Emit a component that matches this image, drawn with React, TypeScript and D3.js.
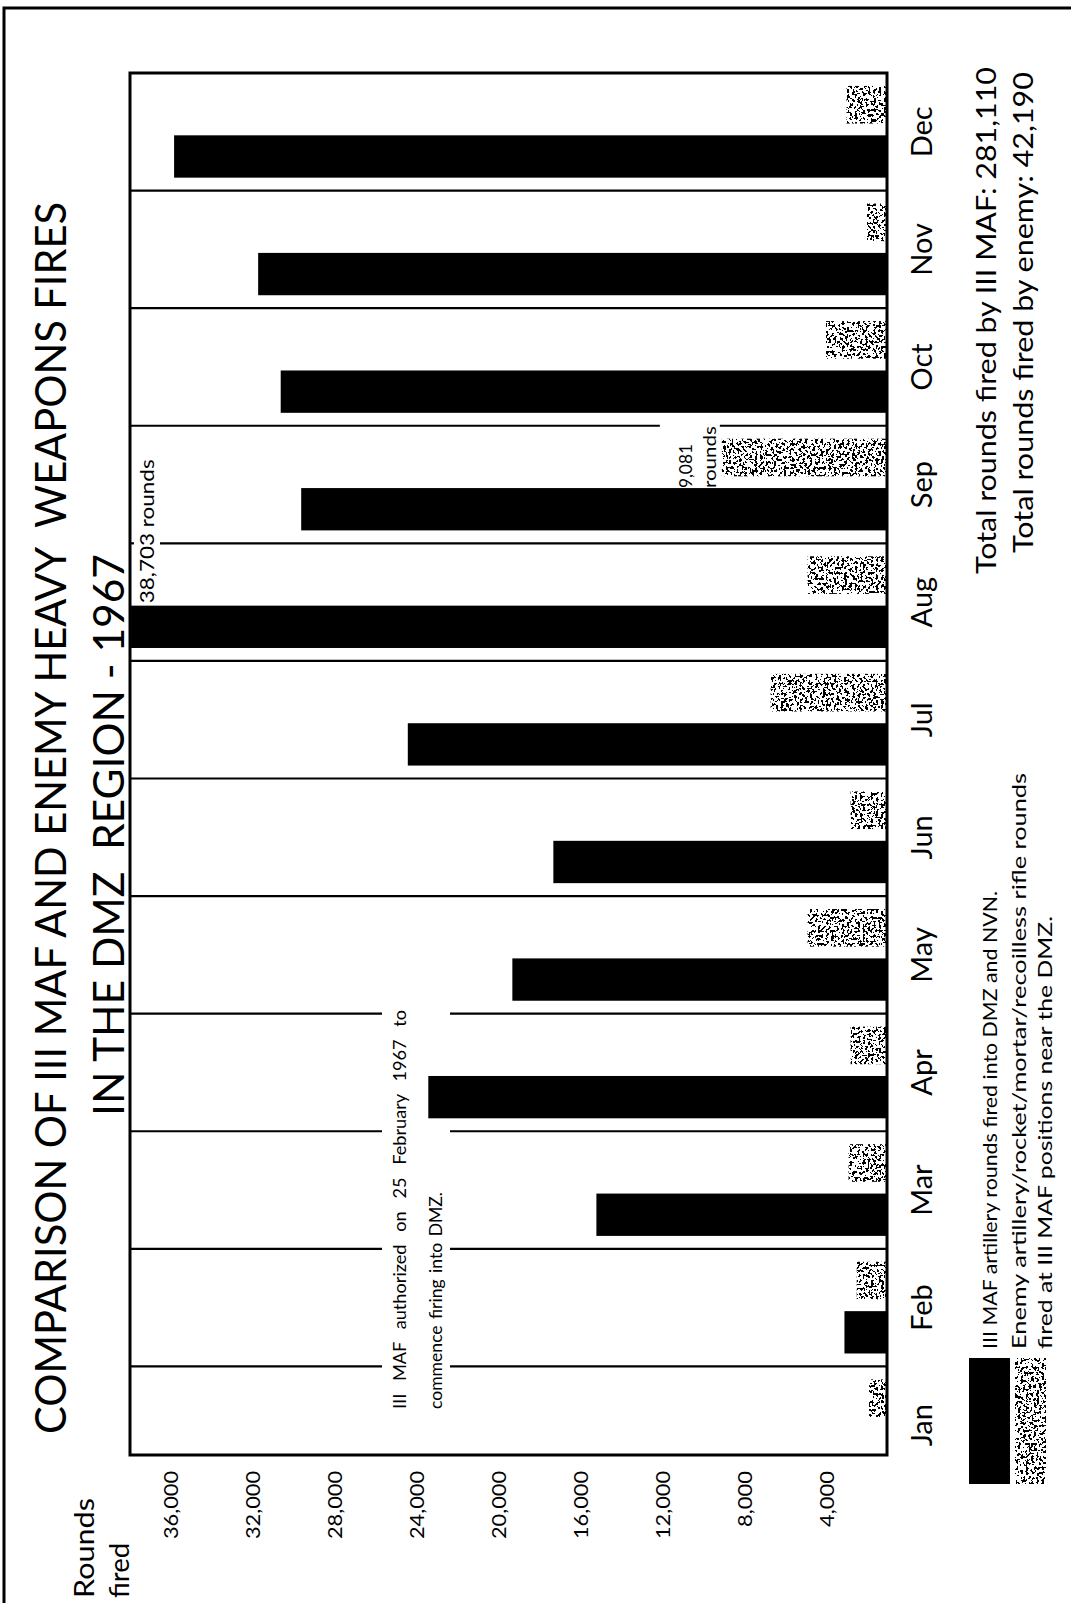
import React from 'react';
import * as d3 from 'd3';

// 1967, III MAF vs enemy heavy weapons fires
const months = ['Jan', 'Feb', 'Mar', 'Apr', 'May', 'Jun', 'Jul', 'Aug', 'Sep', 'Oct', 'Nov', 'Dec'];
const mafRounds = [0, 3100, 15200, 23400, 19300, 17300, 24400, 38703, 29600, 30600, 31700, 35800];
const enemyRounds = [1900, 2500, 2900, 2800, 4900, 2800, 6700, 4900, 9081, 4000, 2000, 3000];
const tickValues = [4000, 8000, 12000, 16000, 20000, 24000, 28000, 32000, 36000];

const titleLines = [
  'COMPARISON OF III MAF AND ENEMY HEAVY  WEAPONS FIRES',
  'IN THE DMZ  REGION - 1967',
];
const noteLines = ['III MAF authorized on 25 February 1967 to', 'commence firing into DMZ.'];
const legendItems = [
  { kind: 'maf', lines: ['III MAF artillery rounds fired into DMZ and NVN.'] },
  {
    kind: 'enemy',
    lines: ['Enemy artillery/rocket/mortar/recoilless rifle rounds', 'fired at III MAF positions near the DMZ.'],
  },
];
const totals = ['Total rounds fired by III MAF: 281,110', 'Total rounds fired by enemy: 42,190'];

const PAGE_W = 1071;
const PAGE_H = 1603;
const FONT = 'Lato, "Noto Sans", sans-serif';

export default function App() {
  // the chart is drawn upright in local coords (u across, v down) and turned -90deg onto the page
  const frame = { u0: 148, u1: 1530, v0: 130, v1: 887 };

  const x = d3.scaleBand<string>().domain(months).range([119, 1530]);
  const y = d3.scaleLinear().domain([0, 36000]).range([908, 170]);
  const bw = x.bandwidth();

  const fmt = d3.format(',');

  const augIdx = months.indexOf('Aug');
  const sepIdx = months.indexOf('Sep');
  const sepEnd = y(enemyRounds[sepIdx]);

  // where the divider lines break for the annotations
  const gapFor = (m: string): [number, number][] => {
    if (['Feb', 'Mar', 'Apr', 'May'].includes(m)) return [[382, 450]];
    if (m === 'Sep') return [[134, 160]];
    if (m === 'Oct') return [[sepEnd - 62, sepEnd - 2]];
    return [];
  };

  const dividers = months.slice(1).flatMap((m) => {
    const u = x(m)!;
    const segs: { u: number; a: number; b: number }[] = [];
    let start = frame.v0;
    gapFor(m).forEach(([g0, g1]) => {
      segs.push({ u, a: start, b: g0 });
      start = g1;
    });
    segs.push({ u, a: start, b: frame.v1 });
    return segs;
  });

  return (
    <svg
      width={PAGE_W}
      height={PAGE_H}
      style={{ position: 'absolute', top: 0, left: 0, background: '#fff' }}
      fontFamily={FONT}
    >
      <defs>
        <clipPath id="plotClip">
          <rect x={frame.u0} y={frame.v0} width={frame.u1 - frame.u0} height={frame.v1 - frame.v0} />
        </clipPath>
        <filter id="speckle" x="0" y="0" width="1" height="1">
          <feTurbulence type="fractalNoise" baseFrequency="0.38" numOctaves="2" seed="11" result="noise" />
          <feColorMatrix
            in="noise"
            type="matrix"
            values="0 0 0 0 0  0 0 0 0 0  0 0 0 0 0  1 0 0 0 0"
            result="r"
          />
          <feComponentTransfer in="r" result="mask">
            <feFuncA type="discrete" tableValues="0 0 0 0 0 0 0 0 0 0 0 1 1 1 1 1 1 1 1 1" />
          </feComponentTransfer>
          <feFlood floodColor="#000" result="ink" />
          <feComposite in="ink" in2="mask" operator="in" result="dots" />
          <feComposite in="dots" in2="SourceAlpha" operator="in" />
        </filter>
      </defs>

      <rect width={PAGE_W} height={PAGE_H} fill="#fff" />
      {/* outer border, only the left and top edges are in the picture */}
      <path d={`M4,${PAGE_H} L4,8 L${PAGE_W},8`} fill="none" stroke="#000" strokeWidth={3} />

      <g transform={`translate(0,${PAGE_H}) rotate(-90)`}>
        {/* title */}
        {titleLines.map((t, i) => (
          <text
            key={t}
            x={i === 0 ? 785 : 768}
            y={i === 0 ? 66 : 124}
            textAnchor="middle"
            fontSize={42}
            textLength={i === 0 ? 1232 : 562}
            lengthAdjust="spacingAndGlyphs"
            style={{ whiteSpace: 'pre' }}
          >
            {t}
          </text>
        ))}

        {/* axis title */}
        <text x={5} y={94} fontSize={26} textLength={100} lengthAdjust="spacingAndGlyphs">Rounds</text>
        <text x={5} y={129} fontSize={26} textLength={55} lengthAdjust="spacingAndGlyphs">fired</text>

        {/* value ticks */}
        {tickValues.map((t) => (
          <text
            key={t}
            x={132}
            y={y(t)}
            textAnchor="end"
            dominantBaseline="central"
            fontSize={20}
            textLength={t >= 10000 ? 68 : 56}
            lengthAdjust="spacingAndGlyphs"
          >
            {fmt(t)}
          </text>
        ))}

        {/* bars */}
        <g clipPath="url(#plotClip)">
          {months.map((m, i) =>
            mafRounds[i] > 0 ? (
              <rect
                key={'maf' + m}
                x={x(m)! + bw * 0.11}
                width={bw * 0.36}
                y={y(mafRounds[i])}
                height={y(0) - y(mafRounds[i])}
                fill="#000"
              />
            ) : null
          )}
          {months.map((m, i) => (
            <rect
              key={'en' + m}
              x={x(m)! + bw * 0.57}
              width={bw * 0.32}
              y={y(enemyRounds[i])}
              height={y(0) - y(enemyRounds[i])}
              fill="#000"
              filter="url(#speckle)"
            />
          ))}
        </g>

        {/* month dividers */}
        {dividers.map((d, i) => (
          <line key={i} x1={d.u} x2={d.u} y1={d.a} y2={d.b} stroke="#000" strokeWidth={2.2} />
        ))}

        {/* frame */}
        <rect
          x={frame.u0}
          y={frame.v0}
          width={frame.u1 - frame.u0}
          height={frame.v1 - frame.v0}
          fill="none"
          stroke="#000"
          strokeWidth={3}
        />

        {/* annotations */}
        <text
          x={x(months[augIdx])! + bw * 0.49}
          y={154}
          fontSize={19}
          textLength={144}
          lengthAdjust="spacingAndGlyphs"
        >
          {fmt(mafRounds[augIdx])} rounds
        </text>
        <text x={x(months[sepIdx])! + bw * 0.47} y={sepEnd - 30} fontSize={17} textLength={44} lengthAdjust="spacingAndGlyphs">
          {fmt(enemyRounds[sepIdx])}
        </text>
        <text x={x(months[sepIdx])! + bw * 0.47} y={sepEnd - 6} fontSize={17} textLength={62} lengthAdjust="spacingAndGlyphs">
          rounds
        </text>

        {noteLines.map((t, i) => (
          <text
            key={t}
            x={x('Jan')! + 75}
            y={406 + i * 36}
            fontSize={18}
            wordSpacing={i === 0 ? 8 : 2}
            textLength={i === 0 ? 399 : 217}
            lengthAdjust="spacingAndGlyphs"
          >
            {t}
          </text>
        ))}

        {/* month labels */}
        {months.map((m) => (
          <text key={m} x={x(m)! + bw / 2} y={932} textAnchor="middle" fontSize={29}>
            {m}
          </text>
        ))}

        {/* legend */}
        {legendItems.map((item, i) => (
          <g key={item.kind}>
            <rect
              x={119}
              width={126}
              y={i === 0 ? 969 : 1015}
              height={i === 0 ? 41 : 31}
              fill="#000"
              filter={item.kind === 'enemy' ? 'url(#speckle)' : undefined}
            />
            {item.lines.map((l, j) => (
              <text
                key={l}
                x={254}
                y={(i === 0 ? 997 : 1026) + j * 26}
                fontSize={20}
                textLength={i === 0 ? 458 : j === 0 ? 576 : 433}
                lengthAdjust="spacingAndGlyphs"
              >
                {l}
              </text>
            ))}
          </g>
        ))}

        {/* totals */}
        {totals.map((t, i) => (
          <text
            key={t}
            x={i === 0 ? 1536 : 1531}
            y={i === 0 ? 996 : 1033}
            textAnchor="end"
            fontSize={27}
            textLength={i === 0 ? 507 : 481}
            lengthAdjust="spacingAndGlyphs"
          >
            {t}
          </text>
        ))}
      </g>
    </svg>
  );
}
